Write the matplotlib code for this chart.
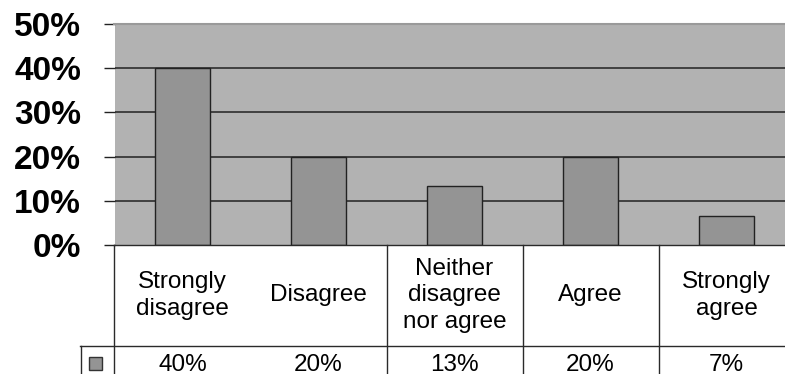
import matplotlib.pyplot as plt
import matplotlib.patches as patches

plt.rcParams['font.family'] = ['Liberation Sans', 'DejaVu Sans']

# survey answers, share of respondents
categories = ['Strongly\ndisagree', 'Disagree', 'Neither\ndisagree\nnor agree', 'Agree', 'Strongly\nagree']
values = [40, 20, 13.3, 20, 6.6]
value_labels = ['40%', '20%', '13%', '20%', '7%']
y_ticks = [0, 10, 20, 30, 40, 50]
y_tick_labels = ['0%', '10%', '20%', '30%', '40%', '50%']

W, H = 785, 374
fig = plt.figure(figsize=(W / 100, H / 100), dpi=100)
# plot area: left 114.5px, top 24px, zero line 245px, slot width 136px (runs past the right edge)
ax = fig.add_axes([114.5 / W, (H - 245) / H, 680 / W, 221 / H])
ax.set_facecolor('#b2b2b2')

x = range(len(categories))
ax.bar(x, values, width=0.4, color='#949494', edgecolor='#222222', linewidth=1.0, zorder=3)

ax.set_xlim(-0.5, 4.5)
ax.set_ylim(0, 50)
ax.set_yticks(y_ticks)
ax.set_yticklabels(y_tick_labels, fontsize=24, fontweight='bold')
ax.tick_params(axis='y', length=8, width=1.0, color='#222222', pad=16)
ax.set_xticks([])
for yv in y_ticks[1:-1]:
    ax.axhline(yv, color='#222222', lw=1.1, zorder=1)

for s in ['left', 'right', 'bottom']:
    ax.spines[s].set_visible(False)
ax.spines['top'].set_color('#9a9a9a')
ax.spines['top'].set_linewidth(1.5)

# data table below the plot, drawn in data coordinates outside the axes
row_bottom = -22.85
fig_bottom = -29.5
line_kw = dict(color='#2a2a2a', lw=1.0, clip_on=False, zorder=5)
ax.plot([-0.5, 4.6], [0, 0], **line_kw)
ax.plot([-0.75, 4.6], [row_bottom, row_bottom], **line_kw)
for xb in [-0.5, 1.5, 2.5, 3.5]:
    ax.plot([xb, xb], [0, fig_bottom], **line_kw)
ax.plot([-0.745, -0.745], [row_bottom, fig_bottom], **line_kw)

key = patches.Rectangle((-0.69, -25.3), 0.1, -2.9, facecolor='#949494', edgecolor='#333333',
                        lw=1.0, clip_on=False, zorder=5)
ax.add_patch(key)

for i, (c, v) in enumerate(zip(categories, value_labels)):
    ax.text(i, row_bottom / 2, c, ha='center', va='center', fontsize=17.5,
            linespacing=1.25, clip_on=False)
    ax.text(i, -24.6, v, ha='center', va='top', fontsize=17.5, clip_on=False)

fig.savefig('out.png', dpi=100, facecolor='white')
